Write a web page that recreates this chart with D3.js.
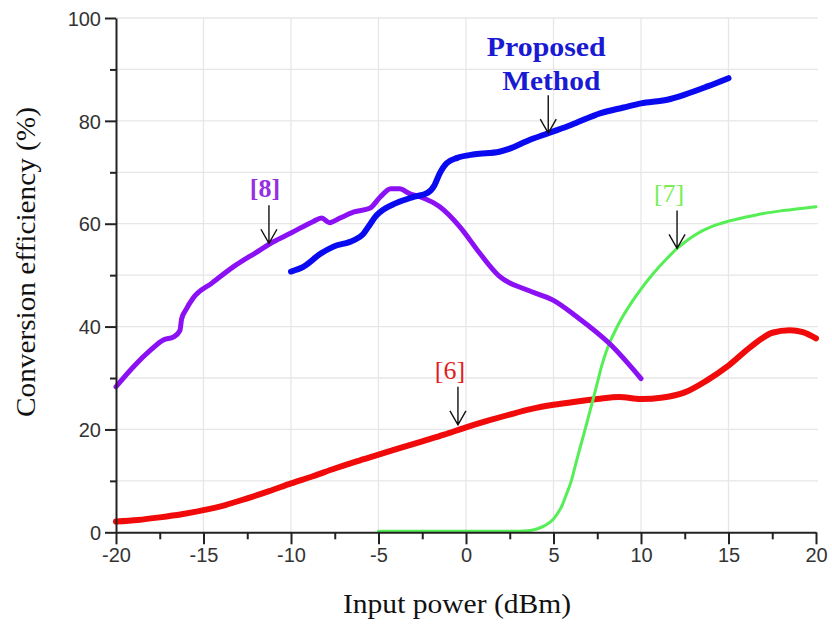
<!DOCTYPE html>
<html>
<head>
<meta charset="utf-8">
<script src="https://cdn.jsdelivr.net/npm/d3@7/dist/d3.min.js"></script>
<style>
  html, body { margin: 0; padding: 0; background: #fff; }
  svg { display: block; }
</style>
</head>
<body>
<svg id="chart" width="832" height="625"></svg>
<script>
// Input power (dBm) vs conversion efficiency (%) for four rectifier designs

const xTicks = [-20, -15, -10, -5, 0, 5, 10, 15, 20];
const yTicks = [0, 20, 40, 60, 80, 100];

// Proposed method
const proposedX = [-10, -9.3, -8.3, -7.6, -6.4, -5.9, -5.5, -5.2, -4.9, -4, -3, -2.2, -1.8, -1.5, -1.1, -0.5, 0.5, 1.9, 2.5, 3.5, 4.7, 6, 7.7, 9, 10, 11.5, 12.5, 13.8, 15];
const proposedY = [50.7, 51.6, 54.2, 55.5, 56.8, 57.9, 59.8, 61.3, 62.3, 64, 65.2, 66, 67.5, 69.8, 71.8, 72.8, 73.5, 74, 74.6, 76.1, 77.6, 79.2, 81.5, 82.6, 83.4, 84.1, 85.1, 86.7, 88.3];

// Reference [8]
const ref8X = [-20, -19, -18, -17.3, -16.7, -16.35, -16.25, -16, -15.6, -14.5, -13.3, -12, -11, -10, -8.75, -8.25, -7.8, -7.2, -6.4, -5.5, -4.9, -4.3, -3.8, -3.2, -2.6, -1.5, -0.35, 0.8, 1.9, 3.5, 5, 6.3, 8.2, 10];
const ref8Y = [28.3, 32.2, 35.5, 37.4, 38, 39.2, 41.5, 43.3, 45.5, 48.5, 51.6, 54.4, 56.5, 58.2, 60.4, 61.1, 60.2, 61.1, 62.3, 63, 65.2, 66.8, 66.8, 65.8, 65.2, 63.3, 59.4, 54.2, 49.8, 47.1, 45.1, 42, 36.7, 29.9];

// Reference [7]
const ref7X = [-5, -2.5, 0, 2.5, 3.5, 4, 4.5, 5, 5.5, 5.75, 6, 6.25, 6.5, 6.75, 7, 7.25, 7.5, 7.75, 8, 8.25, 8.5, 8.75, 9, 9.5, 10, 10.5, 11, 11.5, 12, 12.5, 13, 13.5, 14, 15, 16, 17, 18, 19, 20];
const ref7Y = [0.2, 0.2, 0.2, 0.2, 0.3, 0.6, 1.3, 2.6, 5.3, 7.5, 9.8, 13, 16.2, 19.3, 22.5, 25.7, 29, 32.3, 35, 37.2, 39, 40.7, 42.2, 44.9, 47.3, 49.5, 51.5, 53.3, 55, 56.4, 57.6, 58.6, 59.4, 60.5, 61.3, 62, 62.5, 62.9, 63.3];

// Reference [6]
const ref6X = [-20, -18.75, -17.5, -16.25, -15, -13.75, -12.5, -11.25, -10, -8.75, -7.5, -6.25, -5, -3.75, -2.5, -1.25, 0, 1.25, 2.5, 3.75, 5, 6.25, 7.5, 8.75, 10, 11.25, 12.5, 13.75, 15, 16.25, 17.5, 18.5, 19.25, 20];
const ref6Y = [2.1, 2.4, 2.9, 3.5, 4.3, 5.3, 6.6, 8.0, 9.5, 10.9, 12.4, 13.8, 15.1, 16.4, 17.7, 19.0, 20.4, 21.7, 22.9, 24.0, 24.8, 25.4, 25.9, 26.3, 25.9, 26.2, 27.2, 29.5, 32.4, 36, 38.8, 39.3, 38.9, 37.7];

// Labels with arrows: label text, arrow position (dBm) and arrow tip (%)
const annotLabels = [["Proposed", "Method"], ["[8]"], ["[7]"], ["[6]"]];
const annotX = [4.7, -11.26, 12.06, -0.46];
const annotTip = [77.6, 56.2, 55.2, 20.9];

const svg = d3.select("#chart");
const margin = { left: 116, right: 16, top: 18, bottom: 92.7 };
const W = 832, H = 625;

const x = d3.scaleLinear().domain([-20, 20]).range([margin.left, W - margin.right]);
const y = d3.scaleLinear().domain([0, 100]).range([H - margin.bottom, margin.top]);

// grid
const grid = svg.append("g").attr("stroke", "#e6e6e6").attr("stroke-width", 1.3);
grid.selectAll("line.gy").data(d3.range(10, 101, 10)).join("line")
  .attr("x1", x(-20)).attr("x2", x(20) + 2)
  .attr("y1", d => y(d)).attr("y2", d => y(d));
grid.selectAll("line.gx").data(xTicks.filter(d => d > -20 && d < 20)).join("line")
  .attr("x1", d => x(d)).attr("x2", d => x(d))
  .attr("y1", y(0)).attr("y2", y(100));

// series
const series = [
  { xs: ref6X, ys: ref6Y, color: "#f00a0a", width: 6 },
  { xs: ref7X, ys: ref7Y, color: "#55ef55", width: 3 },
  { xs: ref8X, ys: ref8Y, color: "#8c10f4", width: 5 },
  { xs: proposedX, ys: proposedY, color: "#0a0af0", width: 6 }
];
const line = d3.line().x(d => x(d[0])).y(d => y(d[1])).curve(d3.curveMonotoneX);
svg.append("g").selectAll("path").data(series).join("path")
  .attr("d", s => line(s.xs.map((v, i) => [v, s.ys[i]])))
  .attr("fill", "none")
  .attr("stroke", s => s.color)
  .attr("stroke-width", s => s.width)
  .attr("stroke-linecap", "round")
  .attr("stroke-linejoin", "round");

// axes
const tickFont = "'Liberation Sans', Arial, sans-serif";
const xAxis = d3.axisBottom(x).tickValues(d3.range(-20, 20.1, 2.5)).tickSize(7).tickSizeOuter(0)
  .tickFormat(d => xTicks.includes(d) ? String(d) : "");
const gx = svg.append("g").attr("transform", `translate(0,${y(0)})`).call(xAxis);
gx.selectAll(".tick line").attr("stroke-width", 2).attr("stroke", "#222")
  .attr("y2", d => xTicks.includes(d) ? 12 : 7);
gx.select(".domain").attr("stroke-width", 2).attr("stroke", "#222");
gx.selectAll(".tick text").attr("y", 16).attr("dy", "0.71em")
  .attr("font-family", tickFont).attr("font-size", 20).attr("fill", "#333");

const yAxis = d3.axisLeft(y).tickValues(d3.range(0, 100.1, 10)).tickSize(6).tickSizeOuter(0)
  .tickFormat(d => yTicks.includes(d) ? String(d) : "");
const gy = svg.append("g").attr("transform", `translate(${x(-20)},0)`).call(yAxis);
gy.selectAll(".tick line").attr("stroke-width", 2).attr("stroke", "#222")
  .attr("x2", d => yTicks.includes(d) ? -11 : -6);
gy.select(".domain").attr("stroke-width", 2).attr("stroke", "#222");
gy.selectAll(".tick text").attr("x", -15).attr("dy", "0.36em")
  .attr("font-family", tickFont).attr("font-size", 20).attr("fill", "#333");

// axis titles
const serif = "'Liberation Serif', 'Times New Roman', serif";
svg.append("text")
  .attr("x", 457).attr("y", 613)
  .attr("text-anchor", "middle")
  .attr("font-family", serif).attr("font-size", 27).attr("fill", "#111")
  .attr("textLength", 228).attr("lengthAdjust", "spacingAndGlyphs")
  .text("Input power (dBm)");
svg.append("text")
  .attr("transform", "translate(35,262) rotate(-90)")
  .attr("text-anchor", "middle")
  .attr("font-family", serif).attr("font-size", 27).attr("fill", "#111")
  .attr("textLength", 310).attr("lengthAdjust", "spacingAndGlyphs")
  .text("Conversion efficiency (%)");

// annotations
const annotColors = ["#1a1ad2", "#9430e0", "#77ee55", "#e01e1e"];
const annotBold = [true, true, false, false];
const annotShift = [0, -4, -8, -8];
const arrowLen = 38;
annotLabels.forEach((lines, i) => {
  const ax = x(annotX[i]);
  const tip = y(annotTip[i]);
  const tail = tip - arrowLen;
  const g = svg.append("g");
  g.append("path")
    .attr("d", `M${ax},${tail}V${tip}M${ax - 8},${tip - 14}L${ax},${tip}L${ax + 8},${tip - 14}`)
    .attr("fill", "none").attr("stroke", "#111").attr("stroke-width", 1.4);
  const n = lines.length;
  lines.forEach((t, j) => {
    const txt = g.append("text")
      .attr("x", ax + annotShift[i] + (n > 1 && j === 0 ? -2 : 0) + (n > 1 && j === 1 ? 3 : 0))
      .attr("y", tail - (n > 1 ? 5 : 8) - (n - 1 - j) * 34)
      .attr("text-anchor", "middle")
      .attr("font-family", serif)
      .attr("font-size", n > 1 ? 28 : 26)
      .attr("font-weight", annotBold[i] ? "bold" : "normal")
      .attr("fill", annotColors[i])
      .text(t);
    if (n > 1) txt.attr("textLength", j === 0 ? 119 : 98).attr("lengthAdjust", "spacingAndGlyphs");
  });
});
</script>
</body>
</html>
